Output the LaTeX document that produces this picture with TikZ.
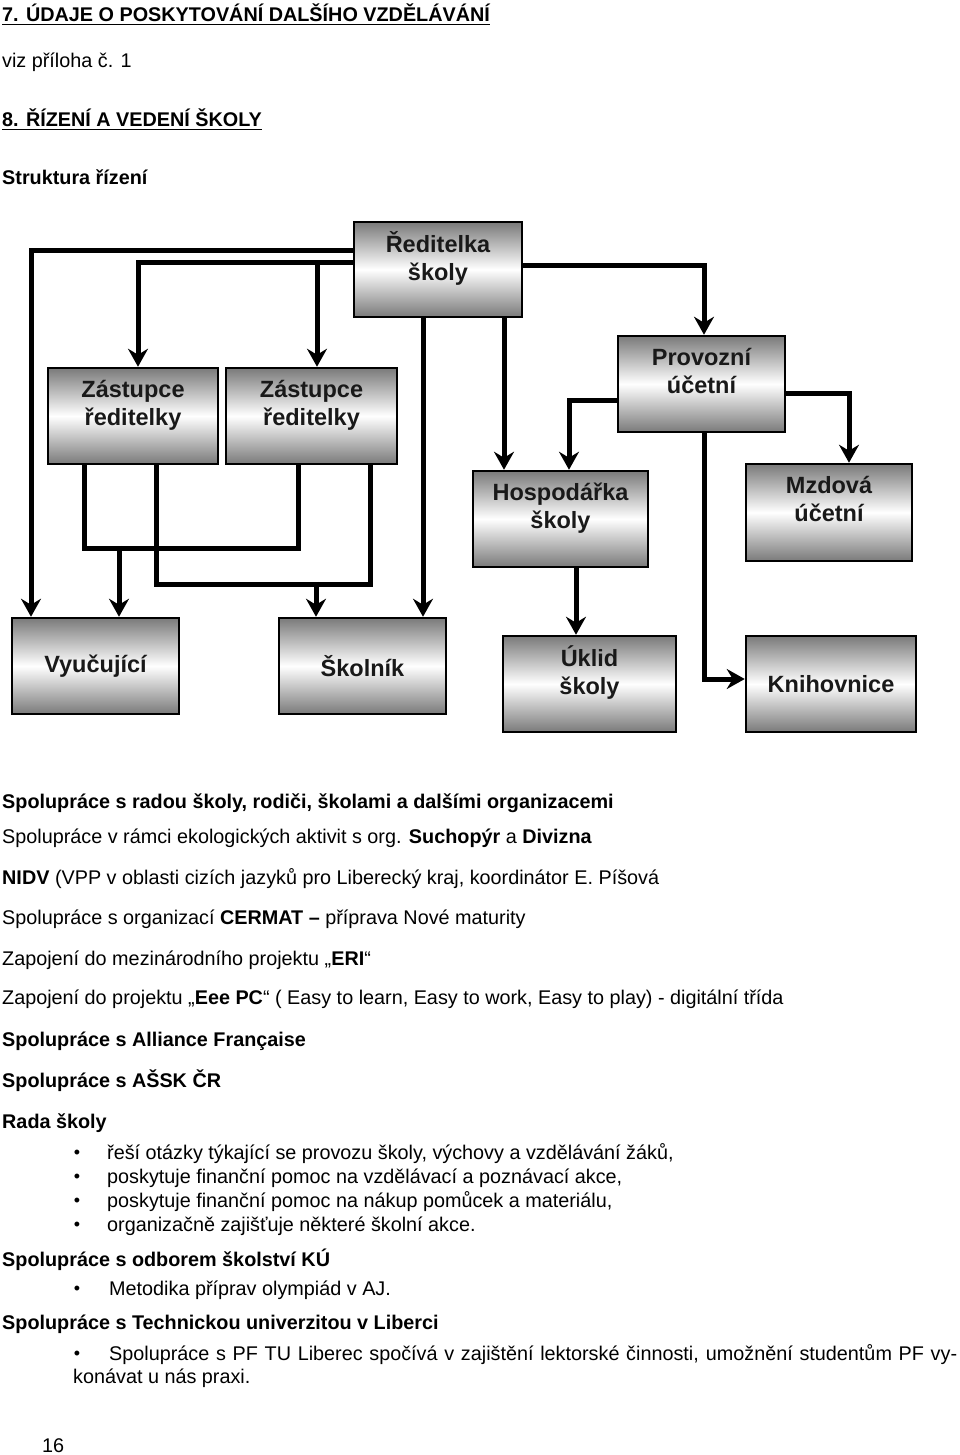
\documentclass[tikz,border=0pt]{standalone}
\usepackage{fontspec}
\setmainfont{Liberation Sans}
\usetikzlibrary{arrows.meta,backgrounds}
\definecolor{boxgray}{RGB}{122,122,122}
\newcommand\myul[1]{\setbox0\hbox{#1}\rlap{\rule[-3.5pt]{\wd0}{1.8pt}}\box0}
\newcommand\lift{\rule[-27pt]{0pt}{27pt}}
\begin{document}
\begin{tikzpicture}[x=1pt,y=-1pt,
  orgbox/.style={draw=black, line width=2.5pt, top color=boxgray, bottom color=boxgray,
    middle color=white, inner sep=0pt, align=center,
    font=\fontsize{23.5}{28}\selectfont\bfseries, text=black!90},
  conn/.style={line width=5pt, -{Stealth[length=18pt,width=20pt,inset=6pt]}},
  plain/.style={line width=5pt},
  txt/.style={anchor=base west, inner sep=0pt, font=\fontsize{19.8}{24}\selectfont},
  btxt/.style={txt, font=\fontsize{19.8}{24}\selectfont\bfseries},
  bul/.style={anchor=base, inner sep=0pt, yshift=0.5pt, font=\fontsize{18}{20}\selectfont}]
\useasboundingbox (0,0) rectangle (960,1455);

% header texts
\node[btxt] (h7) at (2,22) {\myul{7. ÚDAJE O POSKYTOVÁNÍ DALŠÍHO VZDĚLÁVÁNÍ}};
\node[txt] (viz) at (2,68) {viz příloha č. 1};
\node[btxt] (h8) at (2,127) {\myul{8. ŘÍZENÍ A VEDENÍ ŠKOLY}};
\node[btxt] (str) at (2,185) {Struktura řízení};

% boxes
\node[orgbox, minimum width=168pt, minimum height=95pt] (red) at (438,269.5) {Ředitelka\\školy\lift};
\node[orgbox, minimum width=170pt, minimum height=96pt] (z1) at (133,416) {Zástupce\\ředitelky\lift};
\node[orgbox, minimum width=171pt, minimum height=96pt] (z2) at (311.5,416) {Zástupce\\ředitelky\lift};
\node[orgbox, minimum width=167pt, minimum height=96pt] (prov) at (701.5,384) {Provozní\\účetní\lift};
\node[orgbox, minimum width=175pt, minimum height=96pt] (hosp) at (560.5,519) {Hospodářka\\školy\lift};
\node[orgbox, minimum width=166pt, minimum height=97pt] (mzd) at (829,512.5) {Mzdová\\účetní\lift};
\node[orgbox, minimum width=167pt, minimum height=96pt] (vyu) at (95.5,666) {Vyučující};
\node[orgbox, minimum width=167pt, minimum height=96pt] (skol) at (362.5,666) {Školník};
\node[orgbox, minimum width=173pt, minimum height=96pt] (ukl) at (589.5,684) {Úklid\\školy\lift};
\node[orgbox, minimum width=170pt, minimum height=96pt] (kni) at (831,684) {Knihovnice};

\begin{scope}[on background layer]
\fill[white] (0,0) rectangle (960,1455);
\draw[conn] ([yshift=18.5pt]red.west) -| ([xshift=-64.5pt]vyu.north);
\draw[conn] ([yshift=7.5pt]red.west) -| ([xshift=5pt]z1.north);
\path ([yshift=7.5pt]red.west) coordinate (r2) ([xshift=5.5pt]z2.north) coordinate (z2in);
\draw[conn] (r2 -| z2in) -- (z2in);
\path ([xshift=-15pt]red.south) coordinate (r3);
\draw[conn] (r3) -- (r3 |- skol.north);
\path ([xshift=66pt]red.south) coordinate (r4);
\draw[conn] (r4) -- (r4 |- hosp.north);
\draw[conn] ([yshift=4.5pt]red.east) -| ([xshift=2.5pt]prov.north);
\draw[conn] ([yshift=-16pt]prov.west) -| ([xshift=8.5pt]hosp.north);
\draw[conn] ([yshift=-9pt]prov.east) -| ([xshift=20pt]mzd.north);
\draw[conn] ([xshift=2.5pt]prov.south) |- ([yshift=5pt]kni.west);
\path ([xshift=15.5pt]hosp.south) coordinate (h9);
\draw[conn] (h9) -- (h9 |- ukl.north);
\draw[plain] ([xshift=-49pt]z1.south) |- ([xshift=-13.5pt,yshift=-83pt]z2.south) -- ([xshift=-13.5pt]z2.south);
\draw[conn] ([xshift=23.5pt,yshift=71pt]vyu.north) -- ([xshift=23.5pt]vyu.north);
\draw[plain] ([xshift=23pt]z1.south) |- ([xshift=58.5pt,yshift=-119pt]z2.south) -- ([xshift=58.5pt]z2.south);
\draw[conn] ([xshift=-46.5pt,yshift=35pt]skol.north) -- ([xshift=-46.5pt]skol.north);
\end{scope}

% lower texts
\node[btxt] (l1) at (2,808) {Spolupráce s radou školy, rodiči, školami a dalšími organizacemi};
\node[txt] (l2) at (2,843) {Spolupráce v rámci ekologických aktivit s org. \textbf{Suchopýr} a \textbf{Divizna}};
\node[txt] (l3) at (2,884) {\textbf{NIDV} (VPP v oblasti cizích jazyků pro Liberecký kraj, koordinátor E. Píšová};
\node[txt] (l4) at (2,924) {Spolupráce s organizací \textbf{CERMAT –} příprava Nové maturity};
\node[txt] (l5) at (2,965) {Zapojení do mezinárodního projektu „\textbf{ERI}“};
\node[txt] (l6) at (2,1004) {Zapojení do projektu „\textbf{Eee PC}“ ( Easy to learn, Easy to work, Easy to play) - digitální třída};
\node[btxt] (l7) at (2,1046) {Spolupráce s Alliance Française};
\node[btxt] (l8) at (2,1087) {Spolupráce s AŠSK ČR};
\node[btxt] (l9) at (2,1128) {Rada školy};
\foreach \yy/\tt [count=\i] in {1159/{řeší otázky týkající se provozu školy, výchovy a vzdělávání žáků,},
  1183/{poskytuje finanční pomoc na vzdělávací a poznávací akce,},
  1207/{poskytuje finanční pomoc na nákup pomůcek a materiálu,},
  1231/{organizačně zajišťuje některé školní akce.}}{
  \node[bul] (rb\i) at (77,\yy) {•};
  \node[txt] (rt\i) at (107,\yy) {\tt};
}
\node[btxt] (l10) at (2,1266) {Spolupráce s odborem školství KÚ};
\node[bul] (mb) at (77,1295) {•};
\node[txt] (mt) at (109,1295) {Metodika příprav olympiád v AJ.};
\node[btxt] (l11) at (2,1329) {Spolupráce s Technickou univerzitou v Liberci};
\node[bul] (pb) at (77,1360) {•};
\node[txt] (pt) at (109,1360) {\makebox[848pt][s]{Spolupráce s PF TU Liberec spočívá v zajištění lektorské činnosti, umožnění studentům PF vy-}};
\node[txt] (pt2) at (73,1383) {konávat u nás praxi.};
\node[txt] (pg) at (42,1452) {16};
\end{tikzpicture}
\end{document}
